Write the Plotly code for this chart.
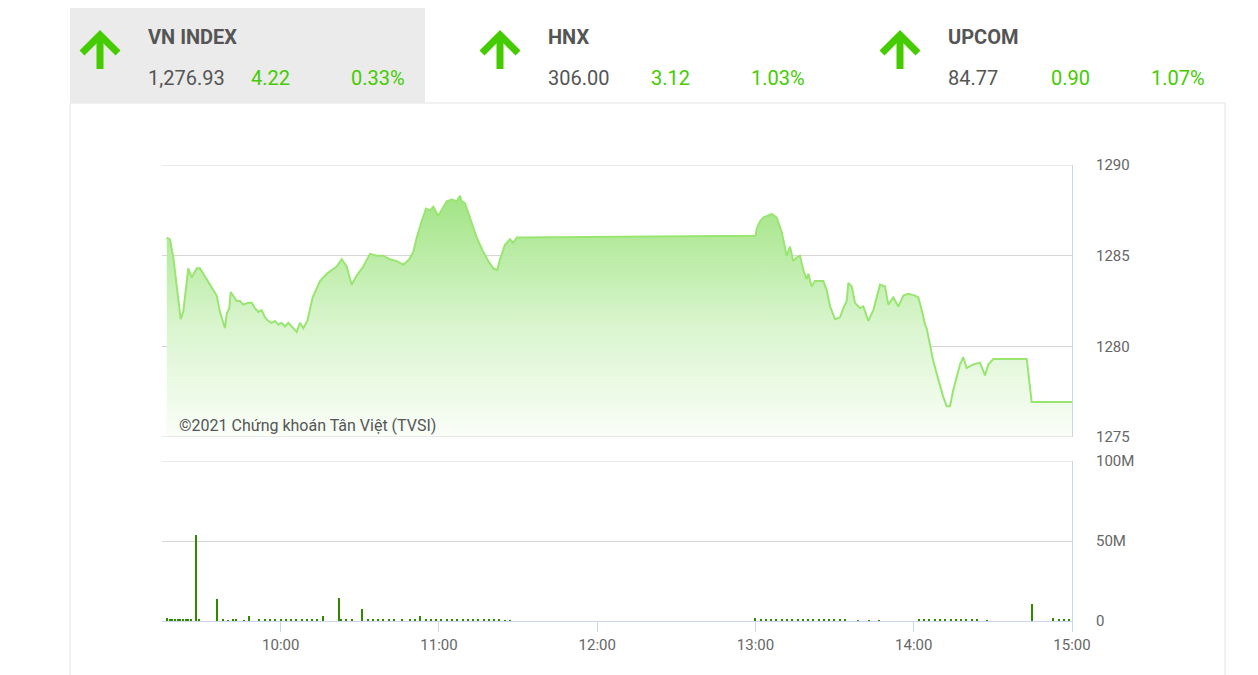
import plotly.graph_objects as go

DAY = "2021-07-14 "

# ---------------- data ----------------
price_time = [
    "09:16:48", "09:18:00", "09:19:17", "09:20:18", "09:21:11", "09:22:05", "09:23:04", "09:24:06",
    "09:24:58", "09:26:16", "09:28:09", "09:29:24", "09:32:30", "09:35:44", "09:36:59", "09:38:53",
    "09:39:32", "09:40:30", "09:41:03", "09:42:02", "09:43:19", "09:44:34", "09:45:49", "09:47:43",
    "09:49:01", "09:50:16", "09:51:31", "09:52:48", "09:54:03", "09:55:18", "09:56:35", "09:57:50",
    "09:59:05", "10:00:23", "10:01:38", "10:02:53", "10:04:10", "10:06:04", "10:07:19", "10:08:34",
    "10:10:05", "10:11:07", "10:12:08", "10:13:39", "10:14:54", "10:17:26", "10:21:14", "10:23:08",
    "10:25:01", "10:26:55", "10:28:49", "10:31:19", "10:32:36", "10:33:51", "10:36:24", "10:38:54",
    "10:41:26", "10:43:59", "10:46:29", "10:48:45", "10:50:16", "10:51:34", "10:53:27", "10:55:05",
    "10:56:36", "10:57:51", "10:59:45", "11:01:02", "11:02:56", "11:04:50", "11:06:44", "11:07:59",
    "11:08:37", "11:09:52", "11:11:46", "11:14:19", "11:16:49", "11:18:43", "11:20:36", "11:22:07",
    "11:23:08", "11:25:02", "11:26:56", "11:28:11", "11:29:28", "11:30:00",
    "13:00:00", "13:00:30", "13:01:43", "13:02:58", "13:06:09", "13:08:03", "13:09:56", "13:11:50",
    "13:13:05", "13:14:20", "13:15:38", "13:16:53", "13:18:08", "13:19:25", "13:20:02", "13:21:19",
    "13:22:34", "13:23:49", "13:25:43", "13:27:01", "13:28:16", "13:30:09", "13:32:03", "13:33:18",
    "13:34:35", "13:35:12", "13:36:29", "13:37:44", "13:39:38", "13:40:53", "13:42:47", "13:44:41",
    "13:46:12", "13:47:13", "13:49:07", "13:50:22", "13:52:16", "13:54:10", "13:56:04", "13:57:57",
    "14:00:29", "14:01:44", "14:03:02", "14:04:17", "14:04:54", "14:06:09", "14:07:24", "14:08:42",
    "14:09:57", "14:11:13", "14:12:30", "14:13:45", "14:15:00", "14:16:17", "14:17:32", "14:18:47",
    "14:20:04", "14:22:34", "14:25:07", "14:27:01", "14:28:16", "14:30:10", "14:42:50", "14:44:43",
    "15:00:00",
]
price_value = [
    1286.0, 1285.9, 1284.9, 1283.6, 1282.7, 1281.5, 1281.9, 1283.3,
    1284.3, 1283.8, 1284.3, 1284.3, 1283.6, 1282.8, 1281.9, 1281.0,
    1281.8, 1282.1, 1283.0, 1282.8, 1282.5, 1282.5, 1282.3, 1282.4,
    1282.4, 1282.1, 1281.9, 1282.0, 1281.6, 1281.4, 1281.3, 1281.4,
    1281.2, 1281.3, 1281.1, 1281.3, 1281.1, 1280.8, 1281.3, 1281.0,
    1281.4, 1282.0, 1282.7, 1283.2, 1283.6, 1284.0, 1284.4, 1284.8,
    1284.4, 1283.4, 1283.9, 1284.4, 1284.8, 1285.1, 1285.0, 1285.0,
    1284.8, 1284.7, 1284.5, 1284.8, 1285.2, 1286.0, 1286.9, 1287.6,
    1287.5, 1287.7, 1287.2, 1287.5, 1288.0, 1288.1, 1288.0, 1288.3,
    1288.0, 1287.9, 1287.1, 1286.0, 1285.2, 1284.7, 1284.3, 1284.2,
    1284.8, 1285.6, 1285.9, 1285.7, 1286.0, 1286.0,
    1286.1, 1286.5, 1286.9, 1287.1, 1287.3, 1287.1, 1286.3, 1285.0,
    1285.5, 1284.7, 1284.9, 1285.0, 1284.2, 1283.7, 1284.0, 1283.3,
    1283.6, 1283.6, 1283.6, 1283.1, 1282.2, 1281.5, 1281.6, 1282.1,
    1282.5, 1283.5, 1283.3, 1282.4, 1282.1, 1282.2, 1281.4, 1282.0,
    1282.9, 1283.4, 1283.3, 1282.3, 1282.7, 1282.2, 1282.8, 1282.9,
    1282.8, 1282.7, 1282.0, 1281.2, 1281.0, 1280.0, 1279.2, 1278.5,
    1277.8, 1277.2, 1276.7, 1276.7, 1277.6, 1278.3, 1279.0, 1279.4,
    1278.8, 1279.0, 1279.1, 1278.4, 1279.0, 1279.3, 1279.3, 1276.93,
    1276.93,
]

vol_time = [
    "09:17", "09:18", "09:19", "09:20", "09:21", "09:22", "09:23", "09:24", "09:25", "09:26",
    "09:28", "09:29", "09:36", "09:38", "09:40", "09:42", "09:43", "09:46", "09:48", "09:52",
    "09:54", "09:56", "09:58", "10:00", "10:02", "10:04", "10:06", "10:08", "10:10", "10:12",
    "10:14", "10:16", "10:22", "10:23", "10:25", "10:27", "10:31", "10:33", "10:35", "10:37",
    "10:39", "10:41", "10:43", "10:46", "10:49", "10:51", "10:53", "10:55", "10:57", "10:59",
    "11:01", "11:03", "11:05", "11:07", "11:09", "11:11", "11:13", "11:15", "11:17", "11:19",
    "11:21", "11:23", "11:25", "11:27",
    "13:00", "13:02", "13:04", "13:06", "13:08", "13:10", "13:12", "13:14", "13:16", "13:18",
    "13:20", "13:22", "13:24", "13:26", "13:28", "13:30", "13:32", "13:34", "13:39", "13:43",
    "13:47", "14:02", "14:04", "14:06", "14:08", "14:10", "14:12", "14:14", "14:16", "14:18",
    "14:20", "14:22", "14:24", "14:28", "14:45", "14:53", "14:55", "14:57", "14:59",
]
vol_value = [
    2.0, 1.0, 0.9, 1.0, 0.8, 1.0, 0.9, 1.0, 0.8, 1.2,
    54.0, 1.0, 13.5, 0.8, 0.6, 0.8, 0.7, 0.6, 3.0, 0.8,
    1.0, 0.7, 1.0, 0.9, 1.1, 0.8, 1.0, 0.9, 1.0, 0.8,
    1.0, 3.0, 14.5, 1.5, 0.8, 0.9, 7.5, 1.0, 0.9, 1.0,
    0.8, 1.0, 0.9, 0.8, 0.9, 1.0, 3.0, 1.5, 1.0, 1.2,
    1.0, 1.1, 0.9, 1.3, 1.0, 1.2, 1.0, 1.4, 1.0, 1.1,
    0.9, 1.0, 0.6, 0.5,
    2.0, 0.9, 1.2, 1.0, 1.3, 1.0, 1.1, 0.9, 1.2, 1.0,
    1.1, 0.9, 1.0, 0.8, 1.0, 0.9, 1.0, 0.8, 0.6, 0.5,
    0.6, 0.8, 1.0, 1.2, 1.0, 1.1, 0.9, 1.0, 1.2, 1.0,
    0.9, 0.8, 0.7, 0.5, 10.6, 2.0, 1.5, 1.0, 1.2,
]

y_ticks_price = [1275, 1280, 1285, 1290]
y_ticks_vol = [0, 50, 100]
y_ticks_vol_text = ["0", "50M", "100M"]

indices = ["VN INDEX", "HNX", "UPCOM"]
index_value = ["1,276.93", "306.00", "84.77"]
index_change = ["4.22", "3.12", "0.90"]
index_pct = ["0.33%", "1.03%", "1.07%"]

# ---------------- layout helpers ----------------
OFF = 8            # page body margin of the html page
W, H = 1258 - OFF, 675 - OFF
PL, PR, PT, PB = 162, 1072, 165, 621   # plot-area edges in screen pixels


def px(x):
    return (x - PL) / (PR - PL)


def py(y):
    return (PB - y) / (PB - PT)


FONT = "Roboto, sans-serif"
GREEN = "#44cc00"
GREY = "#555555"
AXIS = "#ccd6eb"
GRID = "#d6d6d6"

fig = go.Figure()

fig.add_trace(go.Scatter(
    x=[DAY + t for t in price_time], y=price_value,
    mode="lines", line=dict(color="#98e670", width=2),
    fill="tozeroy",
    fillgradient=dict(type="vertical", start=1275, stop=1288.5,
                      colorscale=[[0, "rgba(250,254,248,1)"], [0.45, "rgba(218,245,207,1)"],
                                  [1, "rgba(160,228,130,1)"]]),
    xaxis="x", yaxis="y", hoverinfo="skip", showlegend=False,
))

fig.add_trace(go.Bar(
    x=[DAY + t for t in vol_time], y=[v * 1e6 for v in vol_value],
    width=30000, marker=dict(color="#2e8b00", line=dict(width=0)),
    xaxis="x2", yaxis="y2", hoverinfo="skip", showlegend=False,
))

xr = [DAY + "09:15", DAY + "15:00"]

shapes = [
    # outer frame
    dict(type="rect", xref="paper", yref="paper", x0=px(70), x1=px(1225), y0=py(690), y1=py(103),
         line=dict(color="#e3e3e3", width=1), fillcolor="rgba(0,0,0,0)", layer="below"),
    # selected header box
    dict(type="rect", xref="paper", yref="paper", x0=px(70), x1=px(425), y0=py(103), y1=py(7),
         line=dict(width=0), fillcolor="#ebebeb", layer="below"),
    # edge gridlines
    dict(type="line", xref="paper", yref="y", x0=0, x1=1, y0=1290, y1=1290,
         line=dict(color=GRID, width=1)),
    dict(type="line", xref="paper", yref="y", x0=0, x1=1, y0=1275, y1=1275,
         line=dict(color=GRID, width=1)),
    dict(type="line", xref="paper", yref="y2", x0=0, x1=1, y0=100e6, y1=100e6,
         line=dict(color=GRID, width=1)),
]

annotations = []
for i, name in enumerate(indices):
    ox = 400 * i
    ax = 100 + ox
    # arrow
    shapes.append(dict(type="path", xref="paper", yref="paper",
                       path=f"M {px(ax-18)},{py(53)} L {px(ax)},{py(35)} L {px(ax+18)},{py(53)}",
                       line=dict(color=GREEN, width=7)))
    shapes.append(dict(type="line", xref="paper", yref="paper",
                       x0=px(ax), x1=px(ax), y0=py(38), y1=py(69),
                       line=dict(color=GREEN, width=7)))
    annotations.append(dict(text=f"<b>{name}</b>", x=px(146 + ox), y=py(37), xref="paper", yref="paper",
                            xanchor="left", yanchor="middle", showarrow=False,
                            font=dict(family=FONT, size=20, color=GREY)))
    annotations.append(dict(text=index_value[i], x=px(146 + ox), y=py(78), xref="paper", yref="paper",
                            xanchor="left", yanchor="middle", showarrow=False,
                            font=dict(family=FONT, size=20, color=GREY)))
    annotations.append(dict(text=index_change[i], x=px(249 + ox), y=py(78), xref="paper", yref="paper",
                            xanchor="left", yanchor="middle", showarrow=False,
                            font=dict(family=FONT, size=20, color=GREEN)))
    annotations.append(dict(text=index_pct[i], x=px(407 + ox), y=py(78), xref="paper", yref="paper",
                            xanchor="right", yanchor="middle", showarrow=False,
                            font=dict(family=FONT, size=20, color=GREEN)))

annotations.append(dict(text="©2021 Chứng khoán Tân Việt (TVSI)", x=px(177), y=py(425),
                        xref="paper", yref="paper", xanchor="left", yanchor="middle", showarrow=False,
                        font=dict(family=FONT, size=16, color="#555555")))

tickfont = dict(family=FONT, size=15, color="#666666")

fig.update_layout(
    width=W, height=H,
    margin=dict(l=PL - OFF, r=W - (PR - OFF), t=PT - OFF, b=H - (PB - OFF), pad=0),
    paper_bgcolor="white", plot_bgcolor="white",
    showlegend=False, bargap=0,
    shapes=shapes, annotations=annotations,
    xaxis=dict(type="date", range=xr, domain=[0, 1], anchor="y", showticklabels=False,
               showgrid=False, zeroline=False, showline=False, ticks=""),
    xaxis2=dict(type="date", range=xr, domain=[0, 1], anchor="y2", matches="x",
                tickformat="%H:%M", dtick=3600000, tick0=DAY + "10:00",
                showgrid=False, zeroline=False, showline=True, linecolor=AXIS, linewidth=1,
                ticks="outside", ticklen=10, tickcolor=AXIS, tickfont=tickfont),
    yaxis=dict(domain=[py(437), 1], range=[1275, 1290], side="right", tickvals=y_ticks_price,
               showgrid=True, gridcolor=GRID, zeroline=False, showline=True, linecolor=AXIS,
               ticks="", ticklabelstandoff=20, tickfont=tickfont, anchor="x"),
    yaxis2=dict(domain=[0, py(461)], range=[0, 100e6], side="right",
                tickvals=[v * 1e6 for v in y_ticks_vol], ticktext=y_ticks_vol_text,
                showgrid=True, gridcolor=GRID, zeroline=False, showline=True, linecolor=AXIS,
                ticks="", ticklabelstandoff=20, tickfont=tickfont, anchor="x2"),
)

fig.write_html("out.html")
